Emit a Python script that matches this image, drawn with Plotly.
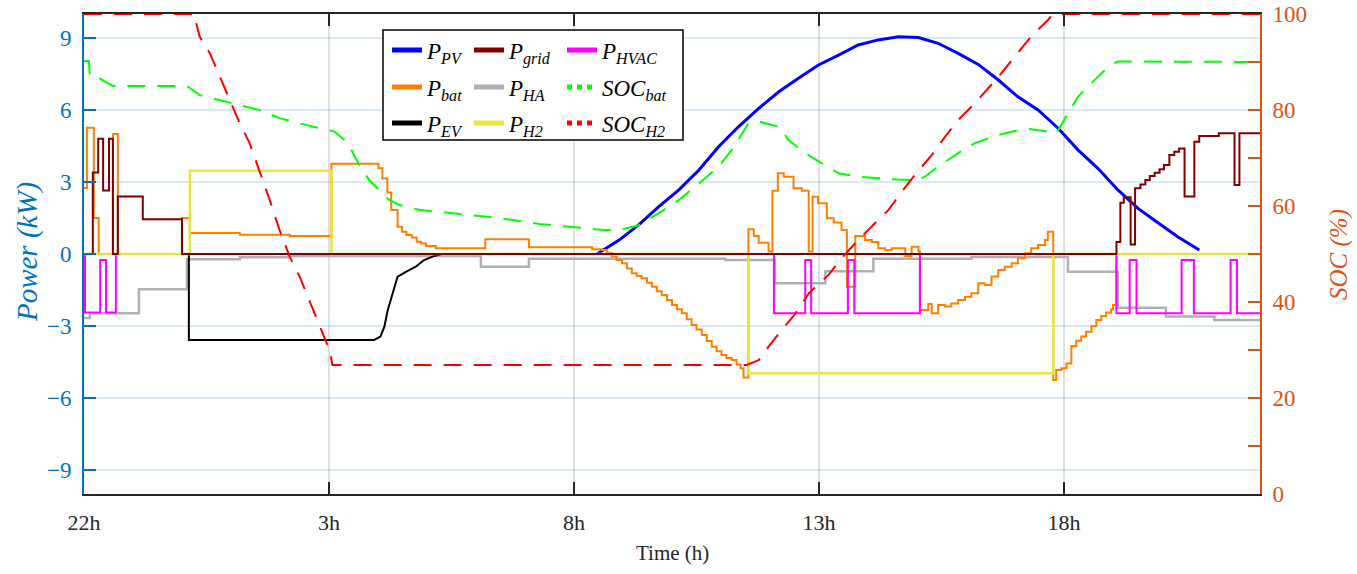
import plotly.graph_objects as go

# ---------------- data (time in hours after 22h) ----------------
t_grid = [0, 0.18, 0.29, 0.39, 0.51, 0.59, 0.69, 1.2, 2.0, 21.07, 21.15, 21.22, 21.36, 21.45, 21.56,
          21.66, 21.75, 21.85, 21.95, 22.04, 22.15, 22.25, 22.35, 22.46, 22.66, 22.76, 23.16, 23.48, 23.58, 24]
p_grid = [0, 3.4, 4.8, 2.65, 4.8, 0, 2.4, 1.45, 0, 0.5, 2.14, 2.36, 0.4, 2.74, 2.9,
          3.08, 3.25, 3.39, 3.53, 3.71, 4.12, 4.26, 4.4, 2.4, 4.68, 4.92, 5.03, 2.88, 5.03, 5.03]

t_bat = [0, 0.06, 0.2, 0.3, 0.59, 0.69, 2.0, 2.16, 3.18, 4.2, 5.05, 6.01, 6.09, 6.19, 6.27, 6.4, 6.49,
         6.58, 6.69, 6.79, 6.88, 6.98, 7.18, 8.19, 9.08, 10.37, 10.57, 10.67, 10.77, 10.87, 10.98,
         11.08, 11.18, 11.28, 11.38, 11.49, 11.59, 11.69, 11.79, 11.9, 12.0, 12.1, 12.2, 12.3, 12.4,
         12.5, 12.61, 12.71, 12.81, 12.91, 13.01, 13.11, 13.22, 13.32, 13.4, 13.46,
         13.56, 13.67, 13.77, 13.97, 14.05, 14.16, 14.28, 14.48, 14.65, 14.79, 14.87, 14.98, 15.16,
         15.3, 15.46, 15.57, 15.74, 15.94, 16.08, 16.21, 16.35, 16.48, 16.76, 16.89, 17.03, 17.06,
         17.23, 17.3, 17.43, 17.57, 17.7, 17.84, 17.98, 18.11, 18.25, 18.38, 18.52, 18.66, 18.79,
         18.93, 19.06, 19.2, 19.33, 19.47, 19.61, 19.67, 19.78, 19.84, 19.95, 20.05, 20.15, 20.25,
         20.35, 20.45, 20.56, 20.66, 20.76, 20.86, 20.96, 21.0, 21.07, 24]
p_bat = [2.75, 5.26, 1.5, 0, 5.0, 0, 1.5, 0.87, 0.8, 0.75, 3.76, 3.57, 3.15, 2.56, 1.83, 1.14, 0.93,
         0.79, 0.69, 0.51, 0.44, 0.33, 0.24, 0.61, 0.28, 0.2, 0.17, 0.05, -0.1, -0.25, -0.39,
         -0.6, -0.8, -0.92, -1.01, -1.2, -1.36, -1.55, -1.71, -1.92, -2.12, -2.3, -2.47, -2.72, -2.96,
         -3.15, -3.38, -3.62, -3.86, -4.05, -4.21, -4.33, -4.42, -4.6, -4.76, -5.15,
         1.03, 0.75, 0.47, 0.1, 2.64, 3.36, 3.22, 2.74, 2.64, 0.1, 2.39, 2.11, 1.49,
         1.31, 1.0, -1.36, 0.75, 0.58, 0.5, 0.24, 0.17, 0.24, -0.08, 0.3, 0.1, -2.33,
         -2.08, -2.47, -2.12, -2.19, -2.06, -1.92, -1.78, -1.64, -1.22, -1.29, -0.94, -0.67, -0.53,
         -0.39, -0.18, 0.03, 0.24, 0.38, 0.58, 0.93, -5.25, -4.83, -4.76, -4.56, -3.83, -3.61,
         -3.44, -3.24, -3.0, -2.75, -2.58, -2.44, -2.31, -2.13, 0, 0]

t_ev = [0, 2.14, 2.14, 5.92, 6.05, 6.13, 6.2, 6.3, 6.4, 6.57, 6.77, 6.94, 7.15, 7.3, 24]
p_ev = [0, 0, -3.58, -3.58, -3.44, -3.03, -2.33, -1.64, -0.94, -0.74, -0.53, -0.25, -0.08, 0, 0]

t_ha = [0, 0.12, 1.12, 2.1, 3.18, 4.17, 8.1, 9.08, 13.09, 14.1, 15.13, 16.11, 18.11, 20.08, 21.1,
        22.08, 23.07, 24]
p_ha = [-2.67, -2.47, -1.47, -0.22, -0.14, -0.08, -0.53, -0.2, -0.25, -1.22, -0.72, -0.2, -0.12,
        -0.74, -2.24, -2.6, -2.75, -2.75]

t_hvac = [0, 0.02, 0.33, 0.45, 0.65, 14.08, 14.72, 14.84, 15.59, 15.72, 17.06, 21.07, 21.34,
          21.48, 22.4, 22.65, 23.4, 23.53, 24]
p_hvac = [0, -2.44, -0.25, -2.44, 0, -2.47, -0.25, -2.47, -0.25, -2.47, 0, -2.47, -0.25,
          -2.47, -0.25, -2.47, -0.25, -2.47, -2.47]

t_h2 = [0, 2.16, 5.05, 13.56, 19.78, 24]
p_h2 = [0, 3.47, 0, -4.97, 0, 0]

t_pv = [10.47, 10.92, 11.32, 11.73, 12.14, 12.55, 12.95, 13.36, 13.77, 14.18, 14.58, 14.99, 15.4,
        15.8, 16.21, 16.62, 17.03, 17.43, 17.84, 18.25, 18.66, 19.06, 19.47, 19.88, 20.29, 20.69,
        21.1, 21.51, 21.91, 22.32, 22.76]
p_pv = [0.0, 0.58, 1.21, 1.97, 2.67, 3.5, 4.47, 5.31, 6.07, 6.76, 7.32, 7.875, 8.29,
        8.71, 8.92, 9.05, 9.02, 8.78, 8.36, 7.9, 7.25, 6.55, 6.0, 5.24, 4.33, 3.57,
        2.67, 1.9, 1.31, 0.72, 0.17]

t_socb = [0, 0.1, 0.12, 0.33, 0.59, 2.1, 2.36, 2.77, 3.18, 3.58, 3.99, 4.4, 4.81, 5.11, 5.32, 5.42,
          5.62, 5.82, 6.23, 6.44, 6.84, 7.66, 8.47, 9.29, 10.1, 10.61, 10.92, 11.32, 11.73, 12.14,
          12.55, 12.95, 13.22, 13.43, 13.56, 13.77, 14.18, 14.38, 14.72, 14.99, 15.4, 15.8, 16.21,
          16.62, 17.03, 17.16, 17.43, 17.84, 18.18, 18.66, 19.06, 19.33, 19.67, 19.84, 20.08,
          20.29, 20.49, 20.69, 20.9, 21.1, 24]
soc_bat = [90.2, 90.2, 87, 86.5, 85, 85, 83.1, 82, 81, 80, 78.3, 77.2, 76.2, 75.5, 73.75, 72.4,
           68.5, 65.4, 61.25, 60.2, 59.2, 58.3, 57.5, 56.25, 55.4, 55, 55, 56, 58.5, 61.25,
           64.7, 68.2, 71.7, 75.1, 77.2, 77.6, 76.5, 73.75, 71, 69.3, 66.8, 66.1, 65.8,
           65.5, 65.4, 66.1, 68.2, 71, 73.1, 74.8, 75.8, 76, 75.5, 75.1, 79.3,
           82.8, 84.9, 87, 89, 90.1, 90]

t_soch = [0, 2.26, 2.3, 2.36, 2.57, 2.77, 2.97, 3.18, 3.38, 3.58, 3.79, 3.99, 4.2, 4.4, 4.6, 4.81,
          5.01, 5.07, 13.52, 13.77, 13.97, 14.24, 14.52, 14.79, 15.19, 15.46, 15.8, 16.14, 16.42,
          16.69, 16.96, 17.3, 17.57, 17.84, 18.18, 18.66, 19.06, 19.33, 19.67, 19.78, 24]
soc_h2 = [100, 100, 97.7, 95.3, 91.8, 87, 82, 77.2, 73.1, 67.5, 61.25, 55, 49.4, 45.3, 40.4, 34.9,
          30, 26.9, 26.9, 27.9, 30.7, 34.2, 37.6, 41.8, 45.6, 49.1, 52.9, 56.4, 59.2,
          63, 66.5, 70.6, 74.4, 77.9, 81.4, 86.9, 91.8, 95.3, 98.75, 100, 100]

x_tickvals = [0, 5, 10, 15, 20]
x_ticktext = ["22h", "3h", "8h", "13h", "18h"]
y_tickvals = [-9, -6, -3, 0, 3, 6, 9]
y2_tickvals = [0, 10, 20, 30, 40, 50, 60, 70, 80, 90, 100]
y2_ticktext = ["0", "", "20", "", "40", "", "60", "", "80", "", "100"]

# ---------------- styling ----------------
C_PV, C_GRID, C_HVAC = "#0000FF", "#800000", "#FF00FF"
C_BAT, C_HA, C_SOCB = "#FF8000", "#B0B0B0", "#00FF00"
C_EV, C_H2, C_SOCH = "#000000", "#E6E63C", "#FF0000"
AX_L, AX_R = "#0072BD", "#D95319"
SERIF = "Liberation Serif"
DASH = "18px,12px"

fig = go.Figure()

def step(x, y, color, w=2, shape="hv"):
    fig.add_trace(go.Scatter(x=x, y=y, mode="lines", line=dict(color=color, width=w, shape=shape),
                             showlegend=False, hoverinfo="skip"))

step(t_pv, p_pv, C_PV, 3, "linear")
step(t_ha, p_ha, C_HA, 2.5)
step(t_ev, p_ev, C_EV, 2, "linear")
step(t_bat, p_bat, C_BAT, 2)
step(t_hvac, p_hvac, C_HVAC, 2)
step(t_h2, p_h2, C_H2, 2.5)
step(t_grid, p_grid, C_GRID, 2)

fig.add_trace(go.Scatter(x=t_socb, y=soc_bat, yaxis="y2", mode="lines",
                         line=dict(color=C_SOCB, width=2, dash=DASH), showlegend=False, hoverinfo="skip"))
fig.add_trace(go.Scatter(x=t_soch, y=soc_h2, yaxis="y2", mode="lines",
                         line=dict(color=C_SOCH, width=2, dash=DASH), showlegend=False, hoverinfo="skip"))

# legend-only traces (3 columns x 3 rows)
def lab(main, sub):
    return f"<i>{main}</i><sub><i>{sub}</i></sub>"

entries = [
    (lab("P", "PV"), C_PV, "solid"), (lab("P", "bat"), C_BAT, "solid"), (lab("P", "EV"), C_EV, "solid"),
    (lab("P", "grid"), C_GRID, "solid"), (lab("P", "HA"), C_HA, "solid"), (lab("P", "H2"), C_H2, "solid"),
    (lab("P", "HVAC"), C_HVAC, "solid"), (lab("SOC", "bat"), C_SOCB, "dot"), (lab("SOC", "H2"), C_SOCH, "dot"),
]
W, H = 1357, 574
ML, MR, MT, MB = 84, 97, 14, 80
PW, PH = W - ML - MR, H - MT - MB
col_px = [392, 474, 567]
row_px = [50, 87, 123]
layout_legends = {}
for i, (name, color, dash) in enumerate(entries):
    c, r = i // 3, i % 3
    key = "legend" if i == 0 else f"legend{i+1}"
    fig.add_trace(go.Scatter(x=[None], y=[None], mode="lines", name=name,
                             line=dict(color=color, width=5, dash=dash), legend=key))
    layout_legends[key] = dict(
        x=(col_px[c] - 5 - ML) / PW, y=(H - MB - row_px[r]) / PH, xanchor="left", yanchor="middle",
        bgcolor="rgba(0,0,0,0)", borderwidth=0,
        font=dict(family=SERIF, size=23, color="#000000"))

fig.add_shape(type="rect", xref="paper", yref="paper",
              x0=(383 - ML) / PW, x1=(683 - ML) / PW, y0=(H - MB - 140) / PH, y1=(H - MB - 30) / PH,
              line=dict(color="#000000", width=1.5), fillcolor="white", layer="above")

fig.update_layout(
    width=W, height=H, margin=dict(l=ML, r=MR, t=MT, b=MB, autoexpand=False),
    paper_bgcolor="white", plot_bgcolor="white",
    showlegend=True,
    xaxis=dict(range=[0, 24], tickvals=x_tickvals, ticktext=x_ticktext, ticks="inside", ticklen=12,
               tickwidth=1.5, tickcolor="#262626", showline=True, linecolor="#262626", linewidth=1.5,
               mirror="ticks", showgrid=True, gridcolor="rgba(38,38,38,0.15)", gridwidth=1.5,
               zeroline=False, tickfont=dict(family=SERIF, size=22, color="#262626"),
               ticklabelstandoff=8, automargin=False),
    yaxis=dict(range=[-10, 10], tickvals=y_tickvals, ticks="inside", ticklen=12, tickwidth=2,
               tickcolor=AX_L, showline=True, linecolor=AX_L, linewidth=2, showgrid=True,
               gridcolor="rgba(0,114,189,0.15)", gridwidth=1.5, zeroline=False,
               tickfont=dict(family=SERIF, size=23, color=AX_L), ticklabelstandoff=6, automargin=False),
    yaxis2=dict(range=[0, 100], overlaying="y", side="right", tickvals=y2_tickvals, ticktext=y2_ticktext,
                ticks="inside", ticklen=12, tickwidth=2, tickcolor=AX_R, showline=True, linecolor=AX_R,
                linewidth=2, showgrid=False, zeroline=False,
                tickfont=dict(family=SERIF, size=23, color=AX_R), ticklabelstandoff=6, automargin=False),
    **layout_legends,
)

fig.add_annotation(text="<i>Power (kW)</i>", xref="paper", yref="paper", x=(27 - ML) / PW, y=0.504,
                   xanchor="center", yanchor="middle",
                   textangle=-90, showarrow=False, font=dict(family=SERIF, size=29, color=AX_L))
fig.add_annotation(text="<i>SOC (%)</i>", xref="paper", yref="paper", x=(1339 - ML) / PW, y=0.498,
                   xanchor="center", yanchor="middle",
                   textangle=-90, showarrow=False, font=dict(family=SERIF, size=25, color=AX_R))
fig.add_annotation(text="Time (h)", xref="paper", yref="paper", x=0.5, y=(H - MB - 553) / PH,
                   xanchor="center", yanchor="middle",
                   showarrow=False, font=dict(family=SERIF, size=21, color="#262626"))

fig.write_html("out.html")
